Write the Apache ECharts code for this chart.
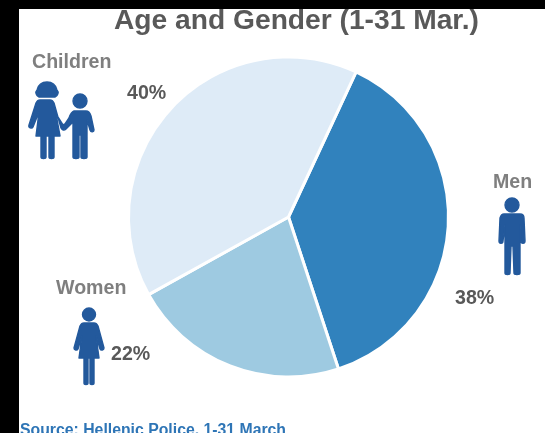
<!DOCTYPE html>
<html>
<head>
<meta charset="utf-8">
<style>html,body{margin:0;padding:0;background:#fff}#chart{width:545px;height:433px}</style>
<script src="https://cdn.jsdelivr.net/npm/echarts@6/dist/echarts.min.js"></script>
</head>
<body>
<div id="chart"></div>
<script>
// Share of people by age and gender, 1-31 March
const categories = ['Men', 'Women', 'Children'];
const shares = [38, 22, 40];
const sliceColors = ['#3182bd', '#9ecae1', '#deebf7'];

const FONT = '"Liberation Sans", Arial, sans-serif';
const ICON = '#23599c';

// Pictogram outlines
const girl = 'M47 82C41 82 38 86 37 90C35 92 36 96 39 97L55 97C58 96 59 92 57 90C56 86 53 82 47 82Z' +
  'M40 100C38 100 37 101 36 103L29 125C28 128 32 129 33 127L39 112L36 136L41 136L41 157C41 159 46 159 46 157L46 136L49 136L49 157C49 159 54 159 54 157L54 136L60 136L56 114L63 125L65 124L69 118C70 115 71 112 74 111L86 111C89 111 90 113 91 116L94 130C94 132 91 133 90 130L87 120L87 157C87 159 81 159 81 157L81 135L79 135L79 157C79 159 73 159 73 157L73 122L66 129C64 131 62 130 61 128L54 103C53 101 52 100 50 100Z' +
  'M80 94A7 7 0 1 0 80 108A7 7 0 1 0 80 94Z';
const woman = 'M89 308A6.5 6.5 0 1 0 89 321A6.5 6.5 0 1 0 89 308Z' +
  'M84 323C82 323 81 324 80 326L74 348C74 350 77 351 78 349L82 336L79 358L84 358L84 383C84 385 88 385 88 383L88 358L90 358L90 383C90 385 94 385 94 383L94 358L99 358L96 336L100 349C101 351 104 350 104 348L98 326C97 324 96 323 94 323Z';
const man = 'M512 198A7 7 0 1 0 512 212A7 7 0 1 0 512 198Z' +
  'M504 214C502 214 501 215 500 218L499 241C499 244 503 244 503 241L505 225L505 273C505 275 510 275 510 273L511 246L513 246L514 273C514 275 520 275 520 273L520 225L521 241C521 244 525 244 525 241L524 218C524 215 522 214 520 214Z';

echarts.graphic.registerShape('girlIcon', echarts.graphic.extendPath(girl));
echarts.graphic.registerShape('womanIcon', echarts.graphic.extendPath(woman));
echarts.graphic.registerShape('manIcon', echarts.graphic.extendPath(man));

const chart = echarts.init(document.getElementById('chart'), null, { renderer: 'canvas' });

const label = (text, x, y, size, color) => ({
  type: 'text', z: 10,
  style: { text, x, y, fill: color, font: 'bold ' + size + 'px ' + FONT, textAlign: 'left', textVerticalAlign: 'middle' }
});
const icon = type => ({ type, z: 10, style: { fill: ICON, stroke: ICON, lineWidth: 1.4, lineJoin: 'round' } });

chart.setOption({
  animation: false,
  backgroundColor: '#ffffff',
  series: [{
    type: 'pie',
    center: [288.5, 217],
    radius: [0, 160],
    startAngle: 65,
    clockwise: true,
    silent: true,
    label: { show: false },
    labelLine: { show: false },
    itemStyle: { borderColor: '#ffffff', borderWidth: 3 },
    data: categories.map((name, i) => ({
      name, value: shares[i], itemStyle: { color: sliceColors[i] }
    }))
  }],
  graphic: [
    label('Age and Gender (1-31 Mar.)', 114, 21, 28.2, '#595959'),
    label(categories[2], 32, 63, 19.6, '#7f7f7f'),
    label(categories[1], 56, 289, 19.6, '#7f7f7f'),
    label(categories[0], 493, 183, 19.6, '#7f7f7f'),
    label(shares[2] + '%', 127, 94, 19.6, '#595959'),
    label(shares[1] + '%', 111, 355, 19.6, '#595959'),
    label(shares[0] + '%', 455, 299, 19.6, '#595959'),
    label('Source: Hellenic Police, 1-31 March', 20, 431, 15.8, '#2e75b6'),
    icon('girlIcon'), icon('womanIcon'), icon('manIcon'),
    // dark frame along the top and left edges
    { type: 'rect', z: 20, shape: { x: 0, y: 0, width: 545, height: 9 }, style: { fill: '#000' } },
    { type: 'rect', z: 20, shape: { x: 0, y: 0, width: 19, height: 433 }, style: { fill: '#000' } }
  ]
});
</script>
</body>
</html>
